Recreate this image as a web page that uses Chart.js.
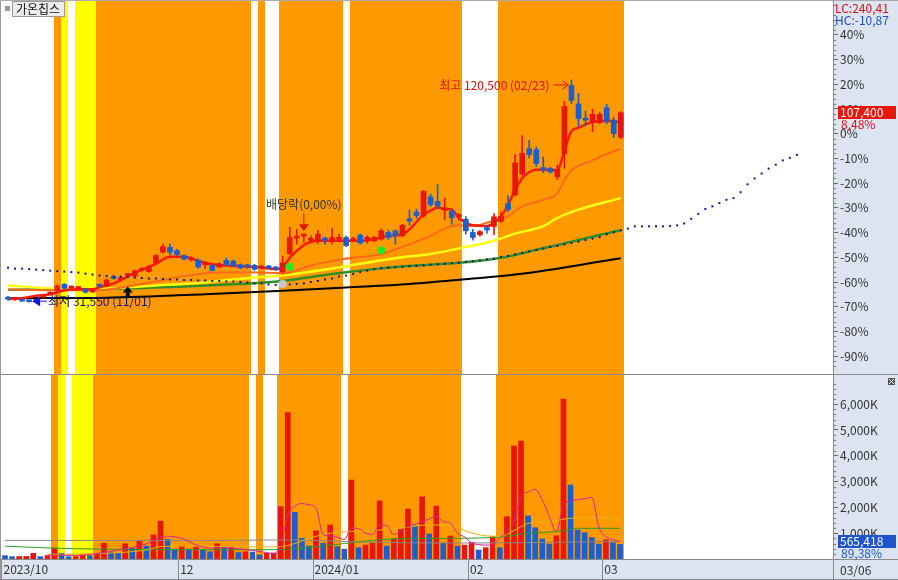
<!DOCTYPE html>
<html><head><meta charset="utf-8">
<script src="https://cdn.jsdelivr.net/npm/chart.js"></script>
<style>
html,body{margin:0;padding:0;background:#fff;}
#wrap{position:relative;width:898px;height:580px;overflow:hidden;}
#c1{position:absolute;left:0;top:0;}
#c2{position:absolute;left:0;top:374px;}
</style></head><body>
<div id="wrap"><canvas id="c1" width="898" height="374"></canvas><canvas id="c2" width="898" height="206"></canvas></div>
<script>
// ---------------- DATA ----------------
const stockName = '가온칩스';
const dates = ['2023/10/27','2023/10/30','2023/10/31',
 '2023/11/01','2023/11/02','2023/11/03','2023/11/06','2023/11/07','2023/11/08','2023/11/09','2023/11/10','2023/11/13','2023/11/14','2023/11/15','2023/11/16','2023/11/17','2023/11/20','2023/11/21','2023/11/22','2023/11/23','2023/11/24','2023/11/27','2023/11/28','2023/11/29','2023/11/30',
 '2023/12/01','2023/12/04','2023/12/05','2023/12/06','2023/12/07','2023/12/08','2023/12/11','2023/12/12','2023/12/13','2023/12/14','2023/12/15','2023/12/18','2023/12/19','2023/12/20','2023/12/21','2023/12/22','2023/12/26','2023/12/27','2023/12/28',
 '2024/01/02','2024/01/03','2024/01/04','2024/01/05','2024/01/08','2024/01/09','2024/01/10','2024/01/11','2024/01/12','2024/01/15','2024/01/16','2024/01/17','2024/01/18','2024/01/19','2024/01/22','2024/01/23','2024/01/24','2024/01/25','2024/01/26','2024/01/29','2024/01/30','2024/01/31',
 '2024/02/01','2024/02/02','2024/02/05','2024/02/06','2024/02/07','2024/02/08','2024/02/13','2024/02/14','2024/02/15','2024/02/16','2024/02/19','2024/02/20','2024/02/21','2024/02/22','2024/02/23','2024/02/26','2024/02/27','2024/02/28','2024/02/29',
 '2024/03/04','2024/03/05','2024/03/06'];

const opens = [33500,32500,32400,32100,31800,33500,34700,36400,38700,37200,
 37000,36800,35600,38100,38000,41600,40500,42200,42000,44300,
 43800,47200,51550,53500,52200,50200,48500,48250,46500,46200,
 45600,48250,48000,46550,45900,46300,45300,46000,45600,43650,
 50900,57200,58000,56300,56100,56600,55700,56700,57450,56200,
 58400,56700,56100,56800,59450,60100,58100,64950,67550,66000,
 73650,71900,68400,67950,65800,64700,59450,58500,61400,61800,
 63950,71000,74550,82800,92950,92550,85450,85000,81750,91000,
 118300,110950,104700,103450,103450,109400,104400,97550];
const highs = [33900,33000,32600,32300,32600,34500,35700,38500,39000,38000,
 37700,37100,36100,38800,40800,42000,41600,43000,44500,45300,
 46200,50600,54800,54800,52800,50500,49700,48900,47600,46600,
 47300,49200,48500,46900,46700,46700,46100,46300,45900,49950,
 61550,60700,58800,58100,60300,57600,61100,58800,58000,57500,
 58800,58100,58000,60900,60300,60500,62700,68400,68800,76300,
 74800,78700,73200,69000,67000,65800,60700,60200,62300,67000,
 67500,74100,90600,98200,96300,93600,89650,85600,86500,112000,
 120500,115050,108050,108850,107600,110850,105600,107800];
const lows = [32350,32200,31800,31550,31700,33200,34500,36000,36800,36700,
 36600,35200,35400,37300,37700,40700,40000,41800,41800,43900,
 43500,46800,51200,50500,50200,48500,48100,45000,44950,44000,
 45300,46100,45700,44900,45000,44300,45000,44900,44300,43300,
 50500,54800,55500,55500,55100,54800,54800,55700,53800,56000,
 54800,55200,55700,56400,56600,54800,57700,62300,65100,65600,
 69800,69000,64700,62700,64300,58800,56400,58000,59200,58600,
 63500,67800,74100,82400,89200,85800,83300,83200,80600,85100,
 111000,102000,102150,99800,103000,103000,97400,97000];
const closes = [32750,32650,31950,31700,32300,34200,35300,38000,37100,37400,
 37200,35500,35800,37900,40400,41000,40700,42400,44050,44600,
 45750,50200,53750,51550,50600,48800,49300,45650,46900,44300,
 46900,46650,46000,45250,45700,44700,45700,45250,44700,47200,
 57450,57450,58100,56400,58800,56400,57450,56800,54150,56800,
 55200,56850,57450,60100,57450,58100,62300,64000,66250,75850,
 70600,69950,68650,65350,66000,60100,57450,59800,60450,65750,
 65950,68650,87300,91200,90600,87050,84400,83700,84700,110000,
 112300,105050,104400,106750,106750,104150,99000,107400];
const volumes = [130000,90000,95000,100000,220000,90000,130000,410000,220000,90000,
 95000,160000,130000,220000,610000,280000,220000,590000,410000,710000,
 500000,930000,1470000,760000,380000,500000,380000,480000,350000,280000,
 590000,410000,450000,250000,280000,270000,160000,220000,225000,2030000,
 5670000,1810000,800000,500000,1090000,610000,1320000,480000,380000,3060000,
 440000,540000,630000,2250000,500000,780000,1160000,1940000,1280000,2410000,
 970000,2050000,610000,890000,500000,540000,650000,350000,440000,860000,
 440000,1640000,4380000,4570000,1670000,1210000,780000,580000,900000,6200000,
 2870000,1120000,1020000,830000,580000,740000,632600,565418];

// moving averages: [bar index, value]
const ma5 = [[0,32750],[2,33150],[4,34100],[6,34700],[8,36300],[10,36700],[12,36700],[13,37450],[15,39050],[17,41800],[19,44550],[21,46900],[23,49700],[25,49700],[27,48100],[29,46700],[31,46250],[34,45750],[36,45350],[38,44750],[39,45550],[40,49300],[41,52050],[42,54400],[43,55600],[44,56100],[47,56100],[50,56100],[52,56750],[54,58050],[56,58750],[57,60700],[59,66600],[60,68200],[61,69400],[62,68850],[63,68600],[64,65300],[65,63350],[66,62300],[68,62000],[69,63350],[70,65850],[71,70550],[72,76450],[73,81200],[74,83550],[75,84600],[77,84600],[78,84350],[79,92200],[80,100100],[81,101400],[82,102750],[84,104050],[86,104050],[87,103350]];
const ma20 = [[0,36650],[7,36300],[13,36300],[17,37850],[21,39850],[25,42000],[29,43350],[34,43550],[38,43200],[39,43000],[43,46250],[48,48900],[53,50850],[57,54800],[60,58050],[62,61000],[64,62300],[66,62000],[68,63350],[71,65950],[73,69900],[76,72550],[78,75150],[79,80400],[80,84350],[83,88300],[85,90900],[87,92900]];
const ma60 = [[0,38250],[7,37050],[14,37050],[21,38250],[28,39450],[35,41400],[39,42200],[46,45000],[50,46900],[55,49150],[60,50850],[64,53050],[69,56100],[72,59000],[76,62000],[78,65300],[81,68600],[87,73200]];
const ma120 = [[0,36500],[14,36850],[28,38250],[39,40050],[46,42800],[55,45600],[64,47300],[70,49300],[74,51850],[78,54400],[82,57150],[87,60300]];
const ma240 = [[0,33150],[14,33350],[28,34700],[39,36100],[48,37450],[57,38850],[66,41000],[72,42600],[78,44950],[83,47300],[87,49100]];
// leading (dotted) line, one value per bar incl. 25 future bars
const leadSpan = [45350,44950,44950,44750,44560,44360,44160,43960,43770,43570,
 43370,42980,42590,42190,42000,41800,41800,41600,41400,41210,
 41010,41010,40810,40620,40620,40420,40420,40220,40220,40030,
 40030,39830,39830,39630,39440,39040,39040,38650,38450,38450,
 38650,38850,39040,39630,40030,40620,41010,41800,42190,42780,
 43570,44160,44750,45150,45340,45540,45740,45930,46130,46330,
 46530,46720,46920,47120,47320,47710,47910,48300,48690,48890,
 49680,50070,50670,51260,51850,52440,53030,53620,54010,54610,
 55200,55790,56380,56970,57560,58740,59530,60320,60990,61890,
 61890,61890,61890,61890,62010,62280,63070,64920,66890,68860,
 69890,71220,72530,73200,75560,78720,81080,83050,85020,86600,
 88290,89350,90530];
// volume moving averages: [bar index, volume]
const volMa5 = [[6,150000],[10,140000],[14,250000],[17,400000],[19,500000],[21,700000],[22,860000],[23,880000],[25,800000],[27,550000],[29,420000],[31,450000],[33,400000],[35,330000],[37,250000],[38,220000],[39,550000],[40,1700000],[41,2050000],[42,2150000],[43,2100000],[44,1970000],[45,950000],[46,900000],[47,850000],[48,750000],[49,1200000],[50,1180000],[51,1000000],[52,950000],[53,1320000],[54,1300000],[55,950000],[56,1100000],[57,1250000],[58,1350000],[59,1450000],[60,1550000],[61,1670000],[62,1450000],[63,1390000],[64,1000000],[65,860000],[66,620000],[67,560000],[68,540000],[69,560000],[70,800000],[71,1100000],[72,1450000],[73,2400000],[74,2600000],[75,2700000],[76,2300000],[77,1650000],[78,1060000],[79,2100000],[80,2250000],[81,2300000],[82,2330000],[83,2390000],[84,1250000],[85,860000],[86,750000],[87,670000]];
const volMa20 = [[6,180000],[14,220000],[20,350000],[22,480000],[26,500000],[30,480000],[36,470000],[39,480000],[41,600000],[43,800000],[46,1000000],[52,1100000],[56,1200000],[60,1320000],[63,1320000],[65,1100000],[68,900000],[70,880000],[72,1100000],[74,1380000],[77,1450000],[80,1580000],[84,1600000],[87,1560000]];
const volMa60 = [[0,500000],[7,420000],[14,380000],[28,360000],[38,360000],[42,420000],[48,600000],[55,780000],[62,800000],[70,850000],[74,1000000],[78,1060000],[81,1190000],[87,1190000]];
const volMa120 = [[0,720000],[30,720000],[40,740000],[50,660000],[65,620000],[87,680000]];

// signal background runs: [code, number of bars]  (o = orange, y = yellow, w = none)
const bandRuns = [['w',7],['o',1],['y',1],['w',1],['y',3],['o',22],['w',1],['o',1],['w',2],['o',9],['w',1],['o',16],['w',5],['o',18]];

// markers
const greenMarkIdx = [40, 53];
const greenMarkVal = [45700, 52300];
const grayMarkIdx = [39];
const grayMarkVal = [38850];
const upArrowIdx = [17];
const upArrowVal = [37850];
const exDivDate = '2023/12/27';
const exDivText = '배당락(0,00%)';
const exDivTip = 59900;

// axis ticks
const pctTicks = [40,30,20,10,0,-10,-20,-30,-40,-50,-60,-70,-80,-90];
const volTicks = [1000000,2000000,3000000,4000000,5000000,6000000];

// ---------------- STYLE / LAYOUT ----------------
const FONT = "'Noto Sans CJK KR', 'Liberation Sans', sans-serif";
Chart.defaults.font.family = FONT;
Chart.defaults.font.size = 12;
const RED = '#e8170c', BLUE = '#1c5fcc', AXIS_BG = '#dbe4f0', FRAME = '#8c8c8c';
const bandColors = {o:'#ff9900', y:'#ffff00'};
const X_MIN = -0.566, X_MAX = 117.13;
const MIN_TICK_GAP = 6; // bars

const N = closes.length;
const basePrice = closes[N - 2];
const pctToPrice = p => basePrice * (1 + p / 100);
const fmtPct = v => v.toFixed(2).replace('.', ',');
const pairs = arr => arr.map(([x, y]) => ({x, y}));
const idx = closes.map((_, i) => i);
const candleColor = i => closes[i] >= opens[i] ? RED : BLUE;
const volColor = i => (i > 0 && volumes[i] > volumes[i - 1]) ? RED : BLUE;

const monthTicks = [];
dates.forEach((d, i) => {
  const ym = d.slice(0, 7);
  if (i === 0) { monthTicks.push({pos: i - 0.5, label: ym}); return; }
  const prev = dates[i - 1];
  if (prev.slice(0, 7) !== ym) {
    const last = monthTicks[monthTicks.length - 1];
    if (i - 0.5 - last.pos < MIN_TICK_GAP) return; // too close to previous label
    monthTicks.push({pos: i - 0.5, label: prev.slice(0, 4) !== d.slice(0, 4) ? ym : d.slice(5, 7)});
  }
});

function drawBands(chart, top, bottom) {
  const {ctx, scales: {x}} = chart;
  let start = 0;
  for (const [code, n] of bandRuns) {
    if (code !== 'w') {
      const l = Math.round(x.getPixelForValue(start - 0.5));
      const r = Math.round(x.getPixelForValue(start + n - 0.5));
      ctx.fillStyle = bandColors[code];
      ctx.fillRect(l, top, r - l, bottom - top);
    }
    start += n;
  }
}
function hline(ctx, x1, x2, y, color) { ctx.strokeStyle = color; ctx.lineWidth = 1; ctx.beginPath(); ctx.moveTo(x1, y); ctx.lineTo(x2, y); ctx.stroke(); }
function vline(ctx, x, y1, y2, color) { ctx.strokeStyle = color; ctx.lineWidth = 1; ctx.beginPath(); ctx.moveTo(x, y1); ctx.lineTo(x, y2); ctx.stroke(); }

// ---------------- PRICE CHART ----------------
const pricePlugin = {
  id: 'priceDecor',
  beforeDraw(chart) {
    const {ctx, chartArea: a, width, height} = chart;
    ctx.save();
    ctx.fillStyle = '#fff'; ctx.fillRect(0, 0, width, height);
    ctx.fillStyle = AXIS_BG; ctx.fillRect(a.right, 0, width - a.right, height);
    drawBands(chart, 0, height);
    ctx.restore();
  },
  afterDatasetsDraw(chart) {
    const {ctx, scales: {x: xs, y: ys}} = chart;
    const X = i => xs.getPixelForValue(i), Y = v => ys.getPixelForValue(v);
    ctx.save();
    // green / gray dots
    ctx.fillStyle = '#26e626';
    greenMarkIdx.forEach((i, k) => { ctx.beginPath(); ctx.arc(X(i), Y(greenMarkVal[k]), 4, 0, Math.PI * 2); ctx.fill(); });
    ctx.fillStyle = '#c8c8c8';
    grayMarkIdx.forEach((i, k) => { ctx.beginPath(); ctx.arc(X(i), Y(grayMarkVal[k]), 4, 0, Math.PI * 2); ctx.fill(); });
    // black up arrow
    ctx.fillStyle = '#000';
    upArrowIdx.forEach((i, k) => {
      const cx = X(i), ty = Y(upArrowVal[k]);
      ctx.beginPath(); ctx.moveTo(cx, ty); ctx.lineTo(cx - 5, ty + 6); ctx.lineTo(cx + 5, ty + 6); ctx.closePath(); ctx.fill();
      ctx.fillRect(cx - 2, ty + 6, 4, 5);
    });
    // ex-dividend marker
    const di = dates.indexOf(exDivDate);
    const dx = X(di), dy = Y(exDivTip);
    ctx.fillStyle = '#e01010'; ctx.strokeStyle = '#e01010'; ctx.lineWidth = 1;
    ctx.beginPath(); ctx.moveTo(dx, dy - 18); ctx.lineTo(dx, dy - 7); ctx.stroke();
    ctx.beginPath(); ctx.moveTo(dx - 5, dy - 7); ctx.lineTo(dx + 5, dy - 7); ctx.lineTo(dx, dy); ctx.closePath(); ctx.fill();
    ctx.font = '12px ' + FONT; ctx.fillStyle = '#333'; ctx.textAlign = 'center'; ctx.textBaseline = 'middle';
    ctx.fillText(exDivText, dx, dy - 27);
    // highest
    let hi = 0, lo = 0;
    for (let i = 1; i < N; i++) { if (highs[i] > highs[hi]) hi = i; if (lows[i] < lows[lo]) lo = i; }
    const hx = X(hi), hy = Y(highs[hi]) + 5;
    ctx.strokeStyle = '#e01010'; ctx.fillStyle = '#e01010';
    ctx.beginPath(); ctx.moveTo(hx - 18, hy); ctx.lineTo(hx - 5, hy); ctx.stroke();
    ctx.beginPath(); ctx.moveTo(hx - 9, hy - 4); ctx.lineTo(hx - 3, hy); ctx.lineTo(hx - 9, hy + 4); ctx.stroke();
    ctx.textAlign = 'right';
    ctx.fillText('최고 ' + highs[hi].toLocaleString('en-US') + ' (' + dates[hi].slice(5) + ')', hx - 22, hy);
    // lowest
    const lx = X(lo), ly = Y(lows[lo]) - 1;
    ctx.fillStyle = '#1414e6'; ctx.strokeStyle = '#1414e6';
    ctx.beginPath(); ctx.moveTo(lx + 3, ly); ctx.lineTo(lx + 11, ly - 5); ctx.lineTo(lx + 11, ly + 5); ctx.closePath(); ctx.fill();
    ctx.beginPath(); ctx.moveTo(lx + 11, ly); ctx.lineTo(lx + 18, ly); ctx.stroke();
    ctx.fillStyle = '#12127a'; ctx.textAlign = 'left';
    ctx.fillText('최저 ' + lows[lo].toLocaleString('en-US') + ' (' + dates[lo].slice(5) + ')', lx + 19, ly);
    ctx.restore();
  },
  afterDraw(chart) {
    const {ctx, chartArea: a, width, height, scales: {y: ys}} = chart;
    ctx.save();
    // minor ticks
    ctx.strokeStyle = '#777'; ctx.lineWidth = 1; ctx.beginPath();
    for (let p = -94; p <= 52; p += 2) {
      if (p % 10 === 0) continue;
      const yy = Math.round(ys.getPixelForValue(pctToPrice(p))) + 0.5;
      ctx.moveTo(a.right, yy); ctx.lineTo(a.right + 3, yy);
    }
    ctx.stroke();
    // LC / HC
    const maxH = Math.max(...highs), minL = Math.min(...lows);
    const last = closes[N - 1];
    ctx.font = '12px ' + FONT; ctx.textAlign = 'left'; ctx.textBaseline = 'middle';
    ctx.fillStyle = '#e01010'; ctx.fillText('LC:' + fmtPct((last / minL - 1) * 100), a.right + 2, 8);
    ctx.fillStyle = '#1f4fbf'; ctx.fillText('HC:' + fmtPct((last / maxH - 1) * 100), a.right + 2, 20);
    // current price box
    const py = ys.getPixelForValue(last);
    ctx.fillStyle = RED; ctx.fillRect(a.right + 5, Math.round(py - 7), width - a.right - 7, 13);
    ctx.fillStyle = '#fff'; ctx.fillText(last.toLocaleString('en-US'), a.right + 7, py);
    ctx.fillStyle = '#e01010'; ctx.fillText(fmtPct((last / basePrice - 1) * 100) + '%', a.right + 8, py + 12);
    // frame
    vline(ctx, 0.5, 0, height, '#999');
    hline(ctx, 0, width, 0.5, '#aaa');
    vline(ctx, a.right + 0.5, 0, height, FRAME);
    // title box
    ctx.fillStyle = '#9a9a9a'; ctx.fillRect(5, 6, 5, 5);
    ctx.fillStyle = '#ececec'; ctx.fillRect(12.5, 1.5, 52, 15);
    ctx.strokeStyle = '#9a9a9a'; ctx.strokeRect(12.5, 1.5, 52, 15);
    ctx.fillStyle = '#111'; ctx.textAlign = 'left'; ctx.font = '12px ' + FONT;
    ctx.fillText(stockName, 16, 9.5);
    ctx.restore();
  }
};

const lineDs = (data, color, width, order) => ({type: 'line', data: pairs(data), borderColor: color, borderWidth: width, pointRadius: 0, cubicInterpolationMode: 'monotone', order});

new Chart(document.getElementById('c1'), {
  type: 'bar',
  data: {datasets: [
    {type: 'line', data: leadSpan.map((v, i) => ({x: i, y: v})), showLine: false, pointStyle: 'rect', pointRadius: 1.4, pointBackgroundColor: '#14148c', pointBorderWidth: 0, order: 1},
    {type: 'bar', data: idx.map(i => ({x: i, y: [opens[i], closes[i]]})), backgroundColor: ctx => candleColor(ctx.dataIndex), barThickness: 5, minBarLength: 2, grouped: false, borderSkipped: false, order: 2},
    {type: 'bar', data: idx.map(i => ({x: i, y: [lows[i], highs[i]]})), backgroundColor: ctx => candleColor(ctx.dataIndex), barThickness: 1, grouped: false, borderSkipped: false, order: 3},
    lineDs(ma5, '#ff1a00', 2.5, 4),
    lineDs(ma20, '#ff6a1a', 2, 5),
    lineDs(ma60, '#ffff10', 2.5, 6),
    lineDs(ma120, '#2f8f26', 2.5, 7),
    lineDs(ma240, '#000000', 2, 8)
  ]},
  options: {
    responsive: false, animation: false, events: [],
    layout: {padding: {left: 1, right: 0, top: 1, bottom: 1}},
    plugins: {legend: {display: false}, tooltip: {enabled: false}},
    scales: {
      x: {type: 'linear', min: X_MIN, max: X_MAX, offset: false, display: false, grid: {display: false}},
      y: {type: 'linear', position: 'right', min: pctToPrice(-95.58), max: pctToPrice(52.45), offset: false,
        afterBuildTicks: s => { s.ticks = pctTicks.map(p => ({value: pctToPrice(p)})); },
        afterFit: s => { s.width = 65; s.paddingTop = 0; s.paddingBottom = 0; },
        ticks: {callback: v => Math.round((v / basePrice - 1) * 100) + '%', color: '#333', font: {size: 12}, padding: 2, autoSkip: false},
        grid: {drawOnChartArea: false, drawTicks: true, tickLength: 5, color: '#666'},
        border: {display: true, color: FRAME}
      }
    }
  },
  plugins: [pricePlugin]
});

// ---------------- VOLUME CHART ----------------
const volPlugin = {
  id: 'volDecor',
  beforeDraw(chart) {
    const {ctx, chartArea: a, width, height} = chart;
    ctx.save();
    ctx.fillStyle = '#fff'; ctx.fillRect(0, 0, width, height);
    ctx.fillStyle = AXIS_BG; ctx.fillRect(a.right, 0, width - a.right, height);
    ctx.fillRect(0, a.bottom, width, height - a.bottom);
    drawBands(chart, 0, a.bottom);
    ctx.restore();
  },
  afterDraw(chart) {
    const {ctx, chartArea: a, width, height, scales: {x: xs, y: ys}} = chart;
    ctx.save();
    // minor ticks
    ctx.strokeStyle = '#777'; ctx.lineWidth = 1; ctx.beginPath();
    for (let v = 200000; v <= 7000000; v += 200000) {
      if (v % 1000000 === 0) continue;
      const yy = Math.round(ys.getPixelForValue(v)) + 0.5;
      ctx.moveTo(a.right, yy); ctx.lineTo(a.right + 3, yy);
    }
    ctx.stroke();
    // frame
    hline(ctx, 0, width, 0.5, '#8a8a8a');
    vline(ctx, 0.5, 0, height, '#999');
    hline(ctx, 0, width, a.bottom + 0.5, '#8a8a8a');
    hline(ctx, 0, width, height - 0.5, '#8a8a8a');
    vline(ctx, a.right + 0.5, 0, height, FRAME);
    monthTicks.forEach(t => { const xx = Math.round(xs.getPixelForValue(t.pos)) + 0.5; vline(ctx, xx, a.bottom, height, '#8a8a8a'); });
    // last date label
    ctx.font = '12px ' + FONT; ctx.fillStyle = '#333'; ctx.textAlign = 'left'; ctx.textBaseline = 'middle';
    ctx.fillText(dates[N - 1].slice(5), a.right + 7, (a.bottom + height) / 2 + 1);
    // current volume box
    const lastV = volumes[N - 1];
    const vy = ys.getPixelForValue(lastV) - 3;
    ctx.fillStyle = '#1f55c8'; ctx.fillRect(a.right + 5, Math.round(vy - 6), width - a.right - 7, 13);
    ctx.fillStyle = '#fff'; ctx.fillText(lastV.toLocaleString('en-US'), a.right + 7, vy + 0.5);
    ctx.fillStyle = '#1f55c8'; ctx.fillText(fmtPct(lastV / volumes[N - 2] * 100) + '%', a.right + 8, vy + 12);
    // small close icon
    ctx.fillStyle = '#555'; ctx.fillRect(width - 10, 4, 7, 7);
    ctx.strokeStyle = '#fff'; ctx.beginPath(); ctx.moveTo(width - 9, 5); ctx.lineTo(width - 4, 10); ctx.moveTo(width - 4, 5); ctx.lineTo(width - 9, 10); ctx.stroke();
    ctx.restore();
  }
};

new Chart(document.getElementById('c2'), {
  type: 'bar',
  data: {datasets: [
    lineDs(volMa5, '#e0209a', 1, 1),
    lineDs(volMa20, '#e6b400', 1, 2),
    lineDs(volMa60, '#2a9a2a', 1, 3),
    lineDs(volMa120, '#888888', 1, 4),
    {type: 'bar', data: idx.map(i => ({x: i, y: volumes[i]})), backgroundColor: ctx => volColor(ctx.dataIndex), barThickness: 5, grouped: false, order: 5}
  ]},
  options: {
    responsive: false, animation: false, events: [],
    layout: {padding: {left: 1, right: 0, top: 1, bottom: 0}},
    plugins: {legend: {display: false}, tooltip: {enabled: false}},
    scales: {
      x: {type: 'linear', min: X_MIN, max: X_MAX, offset: false, position: 'bottom',
        afterBuildTicks: s => { s.ticks = monthTicks.map(t => ({value: t.pos})); },
        afterFit: s => { s.height = 21; s.paddingLeft = 0; s.paddingRight = 0; },
        ticks: {autoSkip: false, maxRotation: 0, minRotation: 0, align: 'start', labelOffset: 2, padding: 3, color: '#333', font: {size: 12},
          callback: (v, i) => monthTicks[i].label},
        grid: {display: false, drawTicks: false},
        border: {display: false}
      },
      y: {type: 'linear', position: 'right', min: 0, max: 7130000, offset: false,
        afterBuildTicks: s => { s.ticks = volTicks.map(v => ({value: v})); },
        afterFit: s => { s.width = 65; s.paddingTop = 0; s.paddingBottom = 0; },
        ticks: {callback: v => (v / 1000).toLocaleString('en-US') + 'K', color: '#333', font: {size: 12}, padding: 2, autoSkip: false},
        grid: {drawOnChartArea: false, drawTicks: true, tickLength: 5, color: '#666'},
        border: {display: true, color: FRAME}
      }
    }
  },
  plugins: [volPlugin]
});
</script>
</body></html>
